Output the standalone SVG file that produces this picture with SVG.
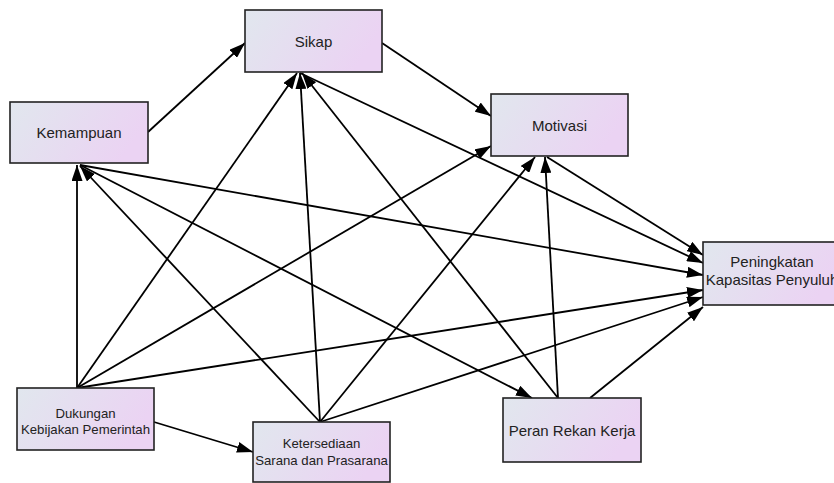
<svg xmlns="http://www.w3.org/2000/svg" width="834" height="483" viewBox="0 0 834 483">
<defs>
<linearGradient id="g" x1="0" y1="0" x2="1" y2="0.3">
<stop offset="0" stop-color="#e1e7ee"/>
<stop offset="1" stop-color="#ebd3f3"/>
</linearGradient>
<marker id="ah" viewBox="0 0 16 11" refX="16" refY="5.5" markerWidth="16" markerHeight="11" markerUnits="userSpaceOnUse" orient="auto">
<path d="M0,0 L16,5.5 L0,11 z" fill="#000"/>
</marker>
<style>
.box{fill:url(#g);stroke:#222;stroke-width:1.6}
.t{font-family:"Liberation Sans",Arial,sans-serif;font-size:15px;fill:#222;text-anchor:middle}
.s{font-size:13.2px}
#edges line{stroke:#000;stroke-width:1.8;marker-end:url(#ah)}
</style>
</defs>
<rect width="834" height="483" fill="#fff"/>
<g id="edges">
<line x1="148" y1="132" x2="245" y2="43"/>
<line x1="382" y1="43" x2="491" y2="116"/>
<line x1="300" y1="73" x2="703" y2="263"/>
<line x1="547" y1="157" x2="703" y2="255"/>
<line x1="80" y1="165" x2="703" y2="275"/>
<line x1="80" y1="165" x2="532" y2="398"/>
<line x1="77" y1="388" x2="77" y2="165"/>
<line x1="77" y1="388" x2="297" y2="73"/>
<line x1="77" y1="388" x2="491" y2="146"/>
<line x1="77" y1="388" x2="703" y2="290"/>
<line x1="154" y1="422" x2="253" y2="452"/>
<line x1="320" y1="422" x2="80" y2="166"/>
<line x1="320" y1="422" x2="300" y2="73"/>
<line x1="320" y1="422" x2="535" y2="157"/>
<line x1="320" y1="422" x2="703" y2="297"/>
<line x1="558" y1="398" x2="302" y2="73"/>
<line x1="558" y1="398" x2="545" y2="157"/>
<line x1="590" y1="398" x2="703" y2="307"/>
</g>
<g id="sikap">
<rect class="box" x="245" y="10" width="137" height="62"/>
<text class="t" x="313.5" y="47">Sikap</text>
</g>
<g id="kemampuan">
<rect class="box" x="10" y="102" width="138" height="61"/>
<text class="t" x="79" y="138">Kemampuan</text>
</g>
<g id="motivasi">
<rect class="box" x="491" y="94" width="137" height="62"/>
<text class="t" x="559.5" y="131">Motivasi</text>
</g>
<g id="peningkatan">
<rect class="box" x="703" y="242" width="138" height="63"/>
<text class="t" x="772" y="267">Peningkatan</text>
<text class="t" x="772" y="285">Kapasitas Penyuluh</text>
</g>
<g id="dukungan">
<rect class="box" x="17" y="388" width="137" height="62"/>
<text class="t s" x="85.5" y="418">Dukungan</text>
<text class="t s" x="85.5" y="434">Kebijakan Pemerintah</text>
</g>
<g id="ketersediaan">
<rect class="box" x="253" y="422" width="137" height="60"/>
<text class="t s" x="321.5" y="448">Ketersediaan</text>
<text class="t s" x="321.5" y="465">Sarana dan Prasarana</text>
</g>
<g id="peran">
<rect class="box" x="503" y="398" width="138" height="64"/>
<text class="t" x="572" y="436">Peran Rekan Kerja</text>
</g>
</svg>
